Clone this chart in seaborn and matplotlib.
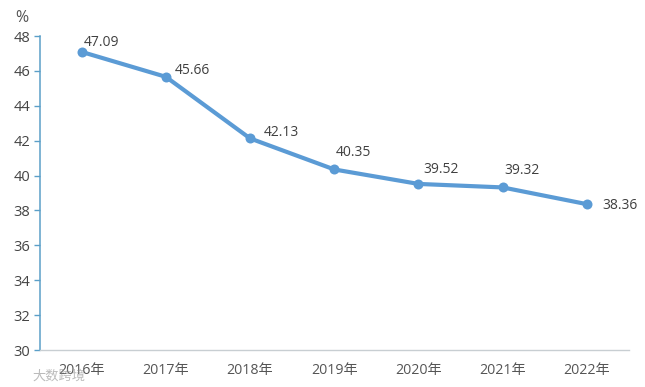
import pandas as pd
import matplotlib
matplotlib.use('Agg')
import matplotlib.pyplot as plt
import seaborn as sns

years = ['2016年', '2017年', '2018年', '2019年', '2020年', '2021年', '2022年']
values = [47.09, 45.66, 42.13, 40.35, 39.52, 39.32, 38.36]
yticks = [30, 32, 34, 36, 38, 40, 42, 44, 46, 48]
# label offsets in pixels from each point
offsets = [(2, 9), (9, 6), (14, 6), (2, 17), (5, 14), (2, 17), (15, -1)]

sns.set_style('white')
plt.rcParams['font.family'] = ['Open Sans', 'Noto Sans CJK SC', 'DejaVu Sans']

df = pd.DataFrame({'year': years, 'value': values})

fig = plt.figure(figsize=(6.45, 3.87), dpi=100)
ax = fig.add_axes([39.5 / 645, 1 - 350 / 387, (629 - 39.5) / 645, (350 - 36) / 387])

sns.lineplot(data=df, x='year', y='value', ax=ax, color='#5b9bd5', linewidth=3,
             marker='o', markersize=7.2, markeredgewidth=0, sort=False)

ax.set_xlim(-0.5, 6.5)
ax.set_ylim(30, 48)
ax.set_yticks(yticks)
ax.set_xlabel('')
ax.set_ylabel('')

for s in ['top', 'right']:
    ax.spines[s].set_visible(False)
ax.spines['left'].set_color('#5b9fc8')
ax.spines['left'].set_linewidth(1.1)
ax.spines['bottom'].set_color('#c8ced2')
ax.spines['bottom'].set_linewidth(1)

ax.tick_params(axis='y', left=True, length=4, width=1, color='#5b9fc8',
               labelsize=10.5, labelcolor='#444444', pad=2.5)
ax.tick_params(axis='x', bottom=False, labelsize=10.2, labelcolor='#555555', pad=6)

for i, v in enumerate(values):
    ax.annotate(f'{v:.2f}', (i, v), xytext=(offsets[i][0] * 0.72, offsets[i][1] * 0.72),
                textcoords='offset points', fontsize=10, color='#404040',
                ha='left', va='center')

fig.text(22 / 645, 1 - 18 / 387, '%', fontsize=11.5, color='#555555', ha='center', va='center')
# watermark bottom left
fig.text(59 / 645, 1 - 376 / 387, '大数跨境', fontsize=9.5, color='#8f8f8f', alpha=0.6,
         ha='center', va='center')

fig.savefig('out.png', dpi=100)
